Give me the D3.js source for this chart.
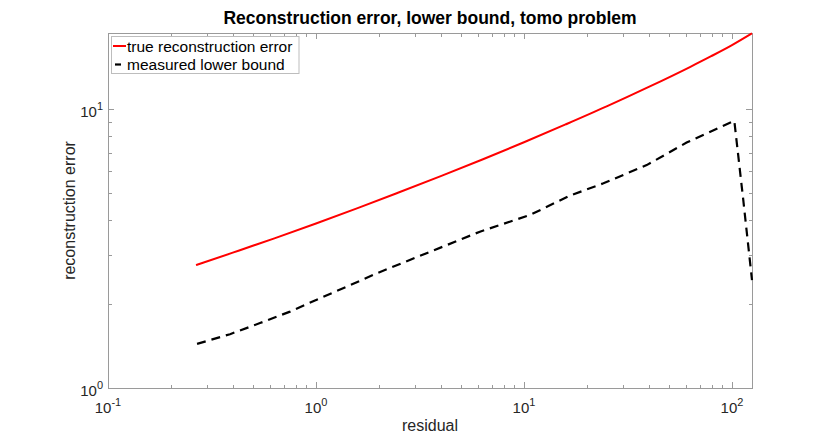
<!DOCTYPE html>
<html>
<head>
<meta charset="utf-8">
<script src="https://cdn.jsdelivr.net/npm/d3@7"></script>
<style>
  html, body { margin: 0; padding: 0; background: #fff; }
  svg { display: block; font-family: "Liberation Sans", Arial, Helvetica, sans-serif; }
</style>
</head>
<body>
<svg id="chart" width="830" height="436"></svg>
<script>
// ---- data ----
const titleText = "Reconstruction error, lower bound, tomo problem";
const xLabel = "residual";
const yLabel = "reconstruction error";
const seriesNames = ["true reconstruction error", "measured lower bound"];

const trueX = [0.265, 0.398, 0.631, 1.0, 1.585, 2.512, 3.981, 6.31, 10.0, 15.85, 25.12, 39.81, 63.1, 79.43, 100, 124.8];
const trueY = [2.76, 3.06, 3.445, 3.895, 4.42, 5.04, 5.76, 6.61, 7.62, 8.83, 10.27, 12.04, 14.22, 15.52, 17.01, 18.75];

const boundX = [0.268, 0.386, 0.538, 0.75, 1.045, 1.405, 1.96, 3.53, 6.14, 10.7, 16.6, 24.1, 38.9, 60.5, 102.6, 113.3, 124.8];
const boundY = [1.44, 1.56, 1.71, 1.88, 2.10, 2.31, 2.58, 3.08, 3.64, 4.18, 4.90, 5.43, 6.31, 7.6, 9.10, 4.73, 2.44];

const xDomain = [0.1, 124.8];
const yDomain = [1, 18.8];
const xMajor = [0.1, 1, 10, 100];
const xMajorExp = ["-1", "0", "1", "2"];
const xMinor = [0.2,0.3,0.4,0.5,0.6,0.7,0.8,0.9, 2,3,4,5,6,7,8,9, 20,30,40,50,60,70,80,90];
const yMajor = [1, 10];
const yMajorExp = ["0", "1"];
const yMinor = [2,3,4,5,6,7,8,9, 20];

// ---- layout ----
const L = 108, R = 752, T = 33, B = 388;
const svg = d3.select("#chart");
const axisColor = "#9a9a9a";
const textColor = "#262626";

const x = d3.scaleLog().domain(xDomain).range([L, R]);
const y = d3.scaleLog().domain(yDomain).range([B, T]);

const yMinorIn = yMinor.filter(v => v >= yDomain[0] && v <= yDomain[1]);

// tick marks via d3 axes (inward)
function tickAxis(gen, scale, vals, size, transform) {
  const g = svg.append("g").attr("transform", transform)
    .call(gen(scale).tickValues(vals).tickSizeInner(size).tickSizeOuter(0).tickFormat(""));
  g.select(".domain").remove();
  g.selectAll("line").attr("stroke", axisColor).attr("stroke-width", 1).attr("shape-rendering", "crispEdges");
}
tickAxis(d3.axisBottom, x, xMajor, -6, `translate(0,${B})`);
tickAxis(d3.axisBottom, x, xMinor, -3.5, `translate(0,${B})`);
tickAxis(d3.axisTop, x, xMajor, -6, `translate(0,${T})`);
tickAxis(d3.axisTop, x, xMinor, -3.5, `translate(0,${T})`);
tickAxis(d3.axisLeft, y, yMajor, -6, `translate(${L},0)`);
tickAxis(d3.axisLeft, y, yMinorIn, -3.5, `translate(${L},0)`);
tickAxis(d3.axisRight, y, yMajor, -6, `translate(${R},0)`);
tickAxis(d3.axisRight, y, yMinorIn, -3.5, `translate(${R},0)`);

// box
svg.append("rect").attr("x", L).attr("y", T).attr("width", R - L).attr("height", B - T)
  .attr("fill", "none").attr("stroke", axisColor).attr("stroke-width", 1).attr("shape-rendering", "crispEdges");

// tick labels with superscripts
xMajor.forEach((v, i) => {
  const t = svg.append("text").attr("x", x(v)).attr("y", B + 25)
    .attr("text-anchor", "middle").attr("fill", textColor).attr("font-size", 15);
  t.append("tspan").text("10");
  t.append("tspan").attr("dy", -7).attr("font-size", 11).text(xMajorExp[i]);
});
yMajor.forEach((v, i) => {
  const t = svg.append("text").attr("x", L - 5).attr("y", y(v) + 8)
    .attr("text-anchor", "end").attr("fill", textColor).attr("font-size", 15);
  t.append("tspan").text("10");
  t.append("tspan").attr("dy", -7).attr("font-size", 11).text(yMajorExp[i]);
});

// axis labels and title
svg.append("text").attr("x", (L + R) / 2).attr("y", 431).attr("text-anchor", "middle")
  .attr("fill", textColor).attr("font-size", 16).text(xLabel);
svg.append("text").attr("transform", `translate(75,${(T + B) / 2}) rotate(-90)`)
  .attr("text-anchor", "middle").attr("fill", textColor).attr("font-size", 16).text(yLabel);
svg.append("text").attr("x", (L + R) / 2).attr("y", 24).attr("text-anchor", "middle")
  .attr("fill", "#000").attr("font-size", 17.5).attr("font-weight", "bold").text(titleText);

// lines
const smooth = d3.line().curve(d3.curveMonotoneX).x(d => x(d[0])).y(d => y(d[1]));
const straight = d3.line().x(d => x(d[0])).y(d => y(d[1]));
svg.append("path").datum(trueX.map((v, i) => [v, trueY[i]]))
  .attr("d", smooth).attr("fill", "none").attr("stroke", "#ff0000").attr("stroke-width", 2);
svg.append("path").datum(boundX.map((v, i) => [v, boundY[i]]))
  .attr("d", straight).attr("fill", "none").attr("stroke", "#000").attr("stroke-width", 2.2)
  .attr("stroke-dasharray", "9,6");

// legend
const lg = svg.append("g");
lg.append("rect").attr("x", 111.5).attr("y", 36.5).attr("width", 187.5).attr("height", 37)
  .attr("fill", "#fff").attr("stroke", "#bdbdbd").attr("stroke-width", 1);
lg.append("line").attr("x1", 113).attr("x2", 126).attr("y1", 46).attr("y2", 46)
  .attr("stroke", "#ff0000").attr("stroke-width", 2);
lg.append("line").attr("x1", 115).attr("x2", 121).attr("y1", 64.5).attr("y2", 64.5)
  .attr("stroke", "#000").attr("stroke-width", 2.2);
lg.append("text").attr("x", 127).attr("y", 51.5).attr("font-size", 15.5).attr("fill", "#000").text(seriesNames[0]);
lg.append("text").attr("x", 127).attr("y", 70).attr("font-size", 15.5).attr("fill", "#000").text(seriesNames[1]);
</script>
</body>
</html>
